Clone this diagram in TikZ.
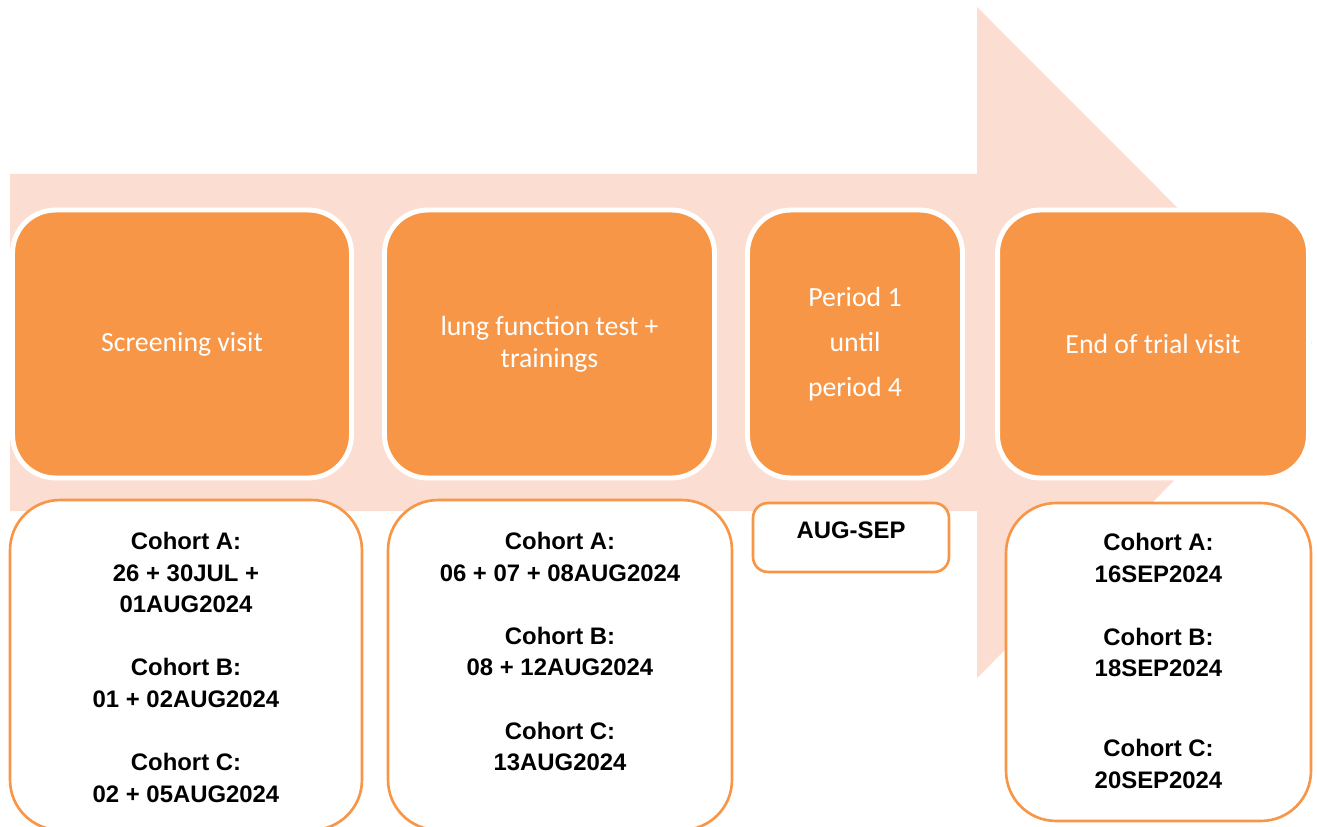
\documentclass[tikz,border=0pt]{standalone}
\usepackage{fontspec}
\setmainfont{Liberation Sans}
\newfontfamily\carlito{Carlito}
\usetikzlibrary{positioning}

\definecolor{arrowpink}{RGB}{251,221,209}
\definecolor{visitorange}{RGB}{247,150,70}

\tikzset{
	visit/.style={rectangle, rounded corners=0.86cm, fill=visitorange, draw=white,
		line width=2.8pt, text=white, align=center, inner sep=0pt,
		minimum height=5.36cm, font=\carlito\fontsize{15.8}{18.5}\selectfont},
	dates/.style={rectangle, rounded corners=1cm, draw=visitorange, line width=1.5pt,
		fill=white, inner sep=0pt},
	datetext/.style={align=center, inner sep=0pt,
		font=\bfseries\fontsize{13.6}{18}\selectfont}
}

\begin{document}
\begin{tikzpicture}[x=0.02cm,y=-0.02cm]
	\clip (0,0) rectangle (1317,827);
	
	% big background arrow
	\fill[arrowpink] (10,174) -- (977,174) -- (977,7) -- (1312,342.5)
		-- (977,678) -- (977,511) -- (10,511) -- cycle;
	
	% visits
	\node[visit, minimum width=6.78cm] (screen) at (182,344) {Screening visit};
	\node[visit, minimum width=6.6cm] (lung) at (549.5,344) {lung function test +\\trainings};
	\node[visit, minimum width=4.3cm] (period) at (855,344) {Period 1\\[7pt]until\\[7pt]period 4};
	\node[visit, minimum width=6.22cm] (eot) at (1153,344) {End of trial visit};
	
	% dates below
	\node[dates, minimum width=7.04cm, minimum height=6.6cm] (screendates) at (186,665) {};
	\node[dates, minimum width=6.88cm, minimum height=6.6cm] (lungdates) at (560,665) {};
	\node[dates, rounded corners=0.3cm, minimum width=3.92cm, minimum height=1.38cm] (perioddates) at (851,537.5) {};
	\node[dates, minimum width=6.1cm, minimum height=6.36cm] (eotdates) at (1158.5,662) {};
	
	\node[datetext, below=0.66cm of screendates.north] (screentext)
		{Cohort A:\\26 + 30JUL +\\01AUG2024\\[18pt]Cohort B:\\01 + 02AUG2024\\[18pt]Cohort C:\\02 + 05AUG2024};
	\node[datetext, below=0.66cm of lungdates.north] (lungtext)
		{Cohort A:\\06 + 07 + 08AUG2024\\[18pt]Cohort B:\\08 + 12AUG2024\\[18pt]Cohort C:\\13AUG2024};
	\node[datetext, below=0.4cm of perioddates.north] (periodtext) {AUG-SEP};
	\node[datetext, below=0.62cm of eotdates.north] (eottext)
		{Cohort A:\\16SEP2024\\[18pt]Cohort B:\\18SEP2024\\[27.5pt]Cohort C:\\20SEP2024};
\end{tikzpicture}
\end{document}
